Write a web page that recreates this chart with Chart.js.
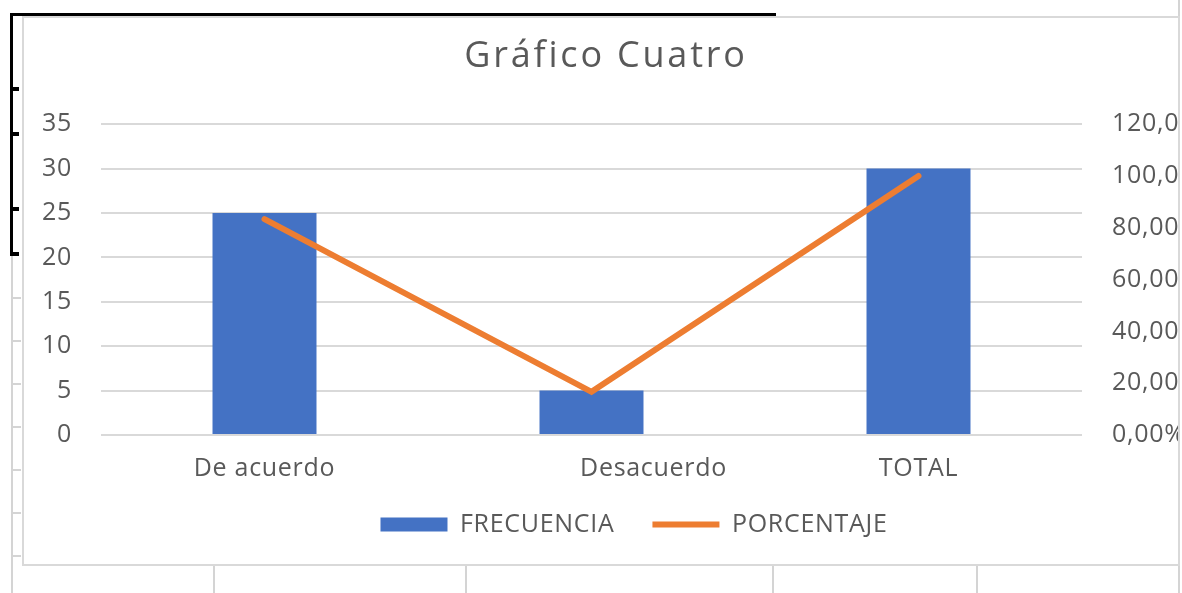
<!DOCTYPE html>
<html>
<head>
<meta charset="utf-8">
<script src="https://cdn.jsdelivr.net/npm/chart.js@4"></script>
<style>
  body { margin: 0; background: #fff; width: 1182px; height: 593px; position: relative; overflow: hidden; }
  .g { position: absolute; background: #d4d4d4; }
  .k { position: absolute; background: #000; }
  #box { position: absolute; left: 22px; top: 16px; width: 1158px; height: 550px; border: 2px solid #d9d9d9; box-sizing: border-box; overflow: hidden; background: #fff; }
  #chart { position: absolute; left: 0; top: 0; }
</style>
</head>
<body>
<!-- spreadsheet cells behind the chart -->
<div class="g" style="left:11px; top:250px; width:2px; height:343px"></div>
<div class="g" style="left:11px; top:297px; width:10px; height:2px"></div>
<div class="g" style="left:11px; top:340px; width:10px; height:2px"></div>
<div class="g" style="left:11px; top:383px; width:10px; height:2px"></div>
<div class="g" style="left:11px; top:426px; width:10px; height:2px"></div>
<div class="g" style="left:11px; top:469px; width:10px; height:2px"></div>
<div class="g" style="left:11px; top:512px; width:10px; height:2px"></div>
<div class="g" style="left:11px; top:555px; width:10px; height:2px"></div>
<div class="g" style="left:213px; top:560px; width:2px; height:33px"></div>
<div class="g" style="left:465px; top:560px; width:2px; height:33px"></div>
<div class="g" style="left:772px; top:560px; width:2px; height:33px"></div>
<div class="g" style="left:976px; top:560px; width:2px; height:33px"></div>
<div class="g" style="left:1178px; top:0px; width:2px; height:593px"></div>
<div class="k" style="left:10px; top:13px; width:766px; height:3px"></div>
<div class="k" style="left:10px; top:13px; width:3px; height:243px"></div>
<div class="k" style="left:10px; top:87px; width:9px; height:4px"></div>
<div class="k" style="left:10px; top:132px; width:9px; height:4px"></div>
<div class="k" style="left:10px; top:207px; width:9px; height:4px"></div>
<div class="k" style="left:10px; top:252px; width:9px; height:4px"></div>

<div id="box"><canvas id="chart" width="1200" height="546"></canvas></div>

<script>
const categories = ["De acuerdo", "Desacuerdo", "TOTAL"];
const frecuencia = [25, 5, 30];
const porcentaje = [83.33, 16.67, 100];
const leftTicks = [0, 5, 10, 15, 20, 25, 30, 35];
const rightTicks = ["0,00%", "20,00%", "40,00%", "60,00%", "80,00%", "100,00%", "120,00%"];

Chart.defaults.font.family = "'Open Sans', sans-serif";
Chart.defaults.color = "#595959";

// wrap a layout box's draw: own letter spacing and a small sideways nudge
function nudge(box, ctx, spacing, dx) {
  const draw = box.draw.bind(box);
  box.draw = function () {
    ctx.save();
    ctx.letterSpacing = spacing;
    ctx.translate(dx, 0);
    draw();
    ctx.restore();
  };
}

// the Excel text is a little wider than Open Sans, so space the letters out
const spacing = {
  id: "spacing",
  afterInit(chart) {
    nudge(chart.titleBlock, chart.ctx, "2.8px", -18);
    nudge(chart.legend, chart.ctx, "0.7px", 10);
  },
  beforeUpdate(chart) { chart.ctx.letterSpacing = "0.7px"; },
  beforeDraw(chart) { chart.ctx.letterSpacing = "0.7px"; }
};

const ctx = document.getElementById("chart");

new Chart(ctx, {
  type: "bar",
  data: {
    labels: categories,
    datasets: [
      {
        type: "line",
        label: "PORCENTAJE",
        data: porcentaje,
        yAxisID: "y1",
        borderColor: "#ED7D31",
        backgroundColor: "#ED7D31",
        borderWidth: 6,
        borderCapStyle: "round",
        pointRadius: 0,
        pointStyle: "line",
        order: 0
      },
      {
        label: "FRECUENCIA",
        data: frecuencia,
        yAxisID: "y",
        backgroundColor: "#4472C4",
        borderWidth: 0,
        pointStyle: "rect",
        categoryPercentage: 1,
        barPercentage: 0.318,
        order: 1
      }
    ]
  },
  plugins: [spacing],
  options: {
    responsive: false,
    animation: false,
    layout: { padding: { left: 0, right: 0, top: 0, bottom: 17 } },
    plugins: {
      title: {
        display: true,
        text: "Gráfico Cuatro",
        color: "#595959",
        font: { size: 36, weight: "normal" },
        padding: { top: 17, bottom: 46 }
      },
      legend: {
        position: "bottom",
        reverse: true,
        labels: {
          usePointStyle: true,
          pointStyleWidth: 67,
          boxHeight: 14,
          padding: 38,
          font: { size: 25 },
          color: "#595959"
        }
      },
      tooltip: { enabled: false }
    },
    scales: {
      x: {
        grid: { display: false },
        border: { display: false },
        ticks: { padding: 11, font: { size: 25 } },
        afterFit: s => {
          s.height = 39;
          // let the labels run into the legend band instead of being cut off
          s._computeLabelArea = () => undefined;
          if (!s._shifted) {
            s._shifted = true;
            const compute = s._computeLabelItems.bind(s);
            // in the original the middle label sits well right of its bar
            s._computeLabelItems = area => {
              const items = compute(area);
              if (items[1]) items[1].options.translation[0] += 62;
              return items;
            };
          }
        }
      },
      y: {
        position: "left",
        min: 0,
        max: 35,
        afterBuildTicks: s => { s.ticks = leftTicks.map(v => ({ value: v })); },
        grid: { color: "#d9d9d9", lineWidth: 2, drawTicks: false },
        border: { display: false },
        ticks: { padding: 29, font: { size: 25 } },
        afterFit: s => { s.width = 77; }
      },
      y1: {
        position: "right",
        min: 0,
        max: 120,
        afterBuildTicks: s => { s.ticks = rightTicks.map((t, i) => ({ value: i * 20 })); },
        grid: { display: false, drawTicks: false },
        border: { display: false },
        ticks: {
          padding: 30,
          font: { size: 25 },
          callback: (v, i) => rightTicks[i]
        },
        afterFit: s => { s.width = 142; }
      }
    }
  }
});
</script>
</body>
</html>
